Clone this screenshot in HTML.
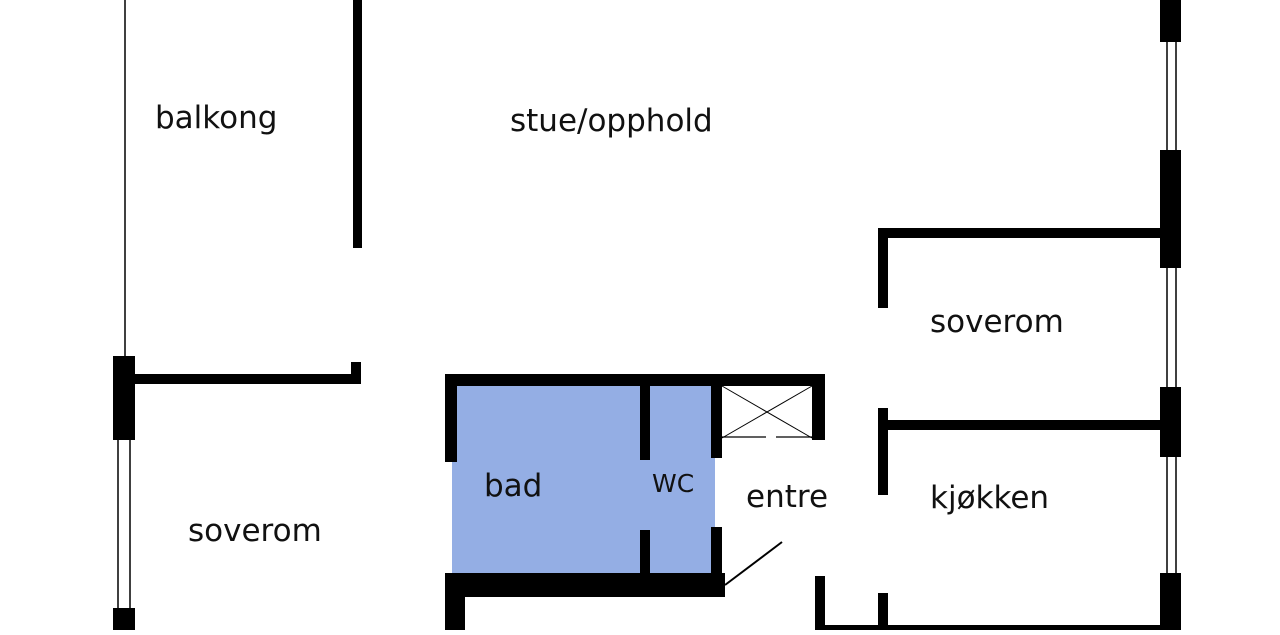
<!DOCTYPE html>
<html><head><style>
body{margin:0;background:#fff;width:1280px;height:630px;overflow:hidden}
svg text{font-family:"DejaVu Sans","Liberation Sans",sans-serif;fill:#111}
</style></head><body>
<svg width="1280" height="630" viewBox="0 0 1280 630">
<rect x="452" y="384" width="263" height="192" fill="#94aee4"/>
<g fill="#000">
<rect x="1160" y="0" width="21" height="42"/>
<rect x="1160" y="150" width="21" height="118"/>
<rect x="1160" y="387" width="21" height="70"/>
<rect x="1160" y="573" width="21" height="57"/>
<rect x="878" y="228" width="284" height="10"/>
<rect x="878" y="228" width="10" height="80"/>
<rect x="878" y="420" width="284" height="10"/>
<rect x="878" y="408" width="10" height="87"/>
<rect x="878" y="593" width="10" height="37"/>
<rect x="815" y="625" width="346" height="5"/>
<rect x="815" y="576" width="10" height="54"/>
<rect x="113" y="356" width="22" height="84"/>
<rect x="113" y="608" width="22" height="22"/>
<rect x="135" y="374" width="226" height="10"/>
<rect x="351" y="362" width="10" height="22"/>
<rect x="353" y="0" width="9" height="248"/>
<rect x="445" y="374" width="380" height="12"/>
<rect x="445" y="374" width="12" height="88"/>
<rect x="640" y="384" width="10" height="76"/>
<rect x="640" y="530" width="10" height="46"/>
<rect x="711" y="384" width="11" height="74"/>
<rect x="711" y="527" width="11" height="49"/>
<rect x="812" y="374" width="13" height="66"/>
<rect x="445" y="573" width="280" height="24"/>
<rect x="445" y="573" width="20" height="57"/>
</g>
<g stroke="#000" fill="none">
<line x1="125" y1="0" x2="125" y2="357" stroke-width="1.5"/>
<line x1="118" y1="440" x2="118" y2="608" stroke-width="1.5"/>
<line x1="130" y1="440" x2="130" y2="608" stroke-width="1.5"/>
<line x1="1167" y1="42" x2="1167" y2="150" stroke-width="1.5"/>
<line x1="1176" y1="42" x2="1176" y2="150" stroke-width="1.5"/>
<line x1="1167" y1="268" x2="1167" y2="387" stroke-width="1.5"/>
<line x1="1176" y1="268" x2="1176" y2="387" stroke-width="1.5"/>
<line x1="1167" y1="457" x2="1167" y2="573" stroke-width="1.5"/>
<line x1="1176" y1="457" x2="1176" y2="573" stroke-width="1.5"/>
<line x1="722" y1="386" x2="812" y2="438" stroke-width="1"/>
<line x1="722" y1="438" x2="812" y2="386" stroke-width="1"/>
<line x1="722" y1="437" x2="766" y2="437" stroke-width="1.2"/>
<line x1="776" y1="437" x2="812" y2="437" stroke-width="1.2"/>
<line x1="725" y1="585" x2="782" y2="542" stroke-width="2"/>
</g>
<g font-size="31">
<text x="155" y="128">balkong</text>
<text x="510" y="131">stue/opphold</text>
<text x="930" y="332">soverom</text>
<text x="930" y="508">kjøkken</text>
<text x="188" y="541">soverom</text>
<text x="484" y="496">bad</text>
<text x="746" y="507">entre</text>
<text x="652" y="492" font-size="25">WC</text>
</g>
</svg>
</body></html>
